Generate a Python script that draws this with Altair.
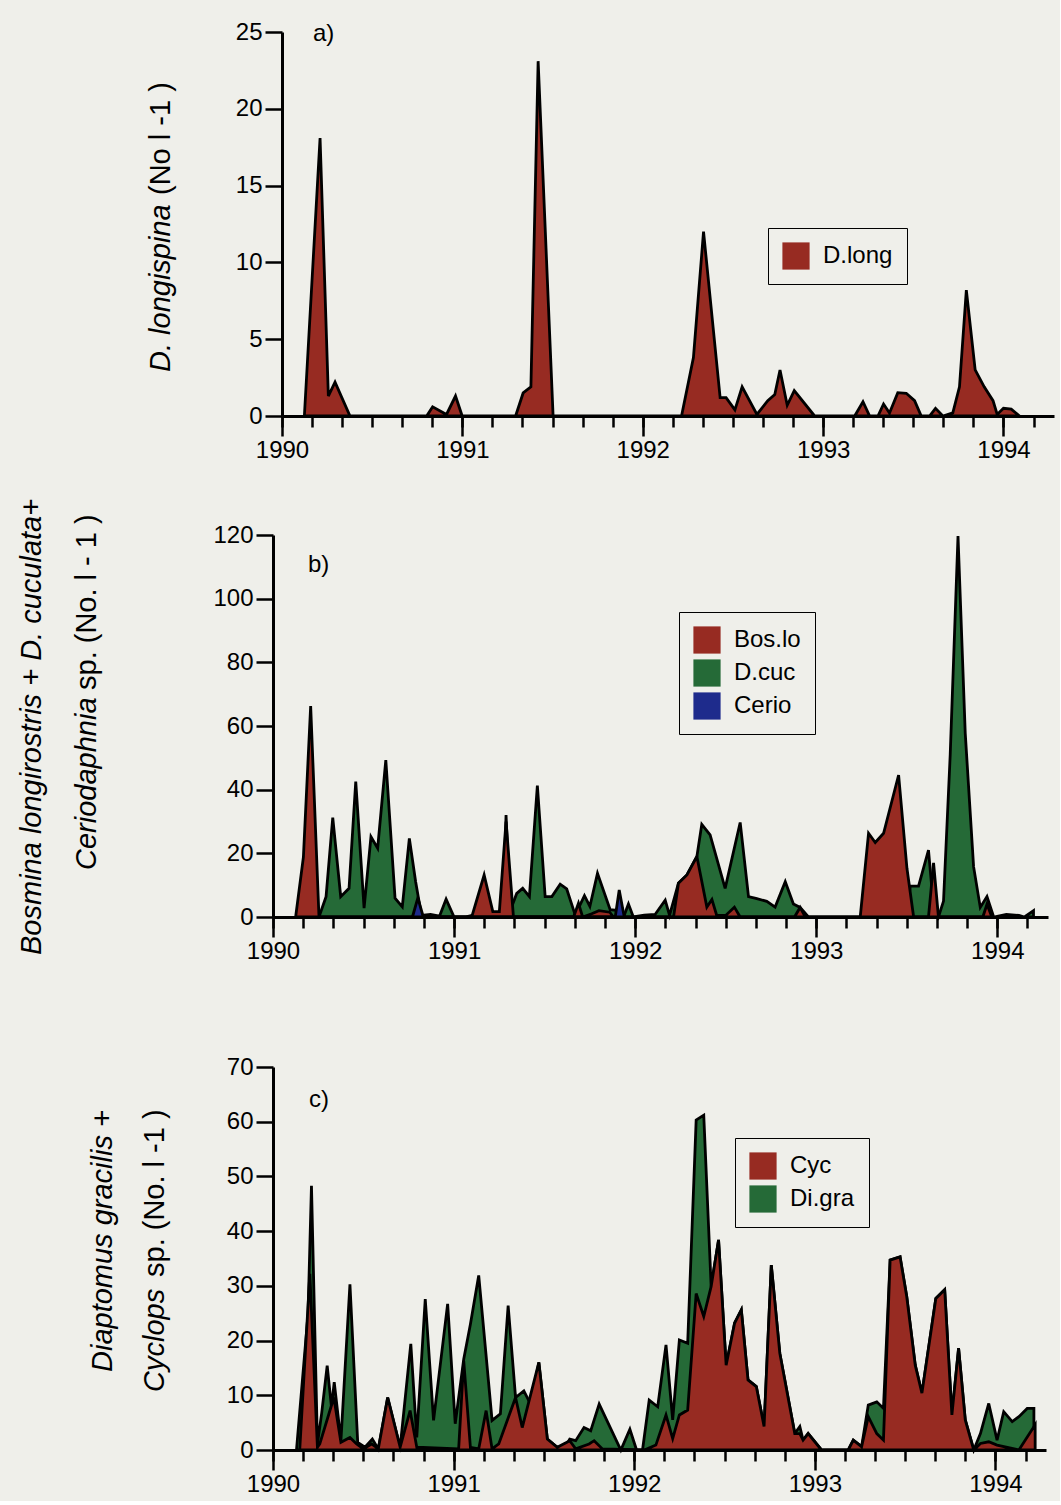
import altair as alt
import pandas as pd

FONT = "Liberation Sans, Arial, Helvetica, sans-serif"
BG = "#efefea"
RED = "#972b22"
GREEN = "#256a37"
BLUE = "#1e2b8c"

# ---------------- data ----------------
# a) D. longispina
A_YEAR = [1990.124, 1990.211, 1990.257, 1990.294, 1990.377, 1990.802, 1990.835, 1990.912,
          1990.962, 1990.999, 1991.295, 1991.337, 1991.380, 1991.420, 1991.503, 1992.215,
          1992.281, 1992.337, 1992.429, 1992.462, 1992.511, 1992.551, 1992.633, 1992.693,
          1992.732, 1992.761, 1992.801, 1992.840, 1992.953, 1993.175, 1993.221, 1993.258,
          1993.304, 1993.335, 1993.368, 1993.414, 1993.461, 1993.507, 1993.544, 1993.590,
          1993.623, 1993.664, 1993.719, 1993.756, 1993.794, 1993.843, 1993.893, 1993.942,
          1993.965, 1994.000, 1994.043, 1994.089]
A_DLONG = [0, 18.1, 1.3, 2.2, 0, 0, 0.6, 0.1,
           1.3, 0, 0, 1.5, 1.9, 23.1, 0, 0,
           3.8, 12.0, 1.2, 1.2, 0.4, 1.9, 0.1, 1.0,
           1.4, 3.0, 0.7, 1.65, 0, 0, 0.93, 0,
           0, 0.78, 0.2, 1.52, 1.48, 1.0, 0, 0,
           0.5, 0, 0.2, 1.9, 8.2, 3.0, 1.9, 1.0,
           0.1, 0.5, 0.45, 0]

# b) Bosmina longirostris, Daphnia cucullata, Ceriodaphnia
B_DCUC_YEAR = [1990.254, 1990.293, 1990.330, 1990.374, 1990.420, 1990.457, 1990.503, 1990.541,
               1990.578, 1990.623, 1990.674, 1990.714, 1990.753, 1990.788, 1990.820, 1990.870,
               1990.920, 1990.956, 1991.000, 1991.270, 1991.287, 1991.310, 1991.346, 1991.379,
               1991.416, 1991.460, 1991.503, 1991.540, 1991.586, 1991.622, 1991.669, 1991.720,
               1991.750, 1991.792, 1991.862, 1991.912, 1991.940, 1991.963, 1991.990, 1992.050,
               1992.110, 1992.166, 1992.190, 1992.239, 1992.286, 1992.341, 1992.368, 1992.414,
               1992.497, 1992.580, 1992.626, 1992.672, 1992.727, 1992.773, 1992.829, 1992.874,
               1992.911, 1992.957, 1993.500, 1993.519, 1993.565, 1993.620, 1993.648, 1993.675,
               1993.703, 1993.740, 1993.783, 1993.823, 1993.869, 1993.906, 1993.943, 1993.980,
               1994.050, 1994.120, 1994.150, 1994.200]
B_DCUC = [0, 6.4, 31.2, 6.4, 9.0, 42.5, 2.8, 25.2,
          21.6, 49.3, 5.9, 3.2, 24.7, 11.0, 0.5, 0.8,
          0.3, 5.6, 0, 0, 32.0, 2.0, 7.4, 9.0,
          6.4, 41.3, 6.4, 6.4, 10.3, 8.8, 0.6, 6.7,
          3.3, 13.7, 2.3, 2.0, 0.6, 4.1, 0, 0.6,
          0.8, 5.3, 0.5, 10.6, 13.2, 19.0, 29.1, 25.8,
          9.0, 29.7, 6.4, 5.8, 4.9, 3.1, 11.1, 4.1,
          3.0, 0, 0, 9.7, 9.7, 21.0, 3.0, 0,
          5.0, 51.0, 119.7, 57.7, 15.8, 3.0, 6.4, 0,
          0.8, 0.5, 0, 2.0]

B_BOS_YEAR = [1990.125, 1990.168, 1990.208, 1990.254, 1991.060, 1991.100, 1991.166, 1991.214,
              1991.250, 1991.287, 1991.328, 1991.660, 1991.687, 1991.710, 1991.760, 1991.800,
              1991.860, 1991.880, 1992.212, 1992.239, 1992.286, 1992.341, 1992.396, 1992.424,
              1992.450, 1992.500, 1992.548, 1992.580, 1992.880, 1992.911, 1992.940, 1993.243,
              1993.289, 1993.326, 1993.372, 1993.455, 1993.501, 1993.538, 1993.620, 1993.648,
              1993.675, 1993.920, 1993.943, 1993.970]
B_BOS = [0, 18.9, 66.3, 0, 0, 0.5, 13.2, 1.7,
         1.7, 30.0, 0, 0, 4.3, 0, 1.0, 2.0,
         1.5, 0, 0, 10.6, 13.2, 19.0, 3.1, 5.5,
         0.6, 0.5, 3.1, 0, 0, 3.0, 0, 0,
         26.3, 23.4, 26.3, 44.6, 15.3, 0, 0, 17.0,
         0, 0, 4.0, 0]

B_CERIO_YEAR = [1990.770, 1990.800, 1990.830, 1991.890, 1991.912, 1991.940]
B_CERIO = [0, 6.0, 0, 0, 8.5, 0]

# c) Cyclops sp., Diaptomus gracilis
C_DIGRA_YEAR = [1990.130, 1990.194, 1990.213, 1990.246, 1990.269, 1990.300, 1990.324, 1990.339,
                1990.376, 1990.426, 1990.469, 1990.509, 1990.550, 1990.583, 1990.635, 1990.704,
                1990.763, 1990.796, 1990.843, 1990.889, 1990.967, 1991.009, 1991.056, 1991.093,
                1991.139, 1991.213, 1991.259, 1991.302, 1991.343, 1991.389, 1991.426, 1991.472,
                1991.519, 1991.574, 1991.611, 1991.643, 1991.676, 1991.722, 1991.759, 1991.806,
                1991.926, 1991.976, 1992.013, 1992.046, 1992.083, 1992.130, 1992.176, 1992.213,
                1992.250, 1992.296, 1992.343, 1992.385, 1992.426, 1992.467, 1992.509, 1992.556,
                1992.593, 1992.630, 1992.676, 1992.719, 1992.759, 1992.806, 1992.889, 1992.917,
                1992.935, 1992.963, 1993.037, 1993.185, 1993.213, 1993.259, 1993.296, 1993.343,
                1993.380, 1993.417, 1993.472, 1993.509, 1993.556, 1993.593, 1993.670, 1993.719,
                1993.759, 1993.796, 1993.833, 1993.880, 1993.917, 1993.963, 1994.009, 1994.046,
                1994.093, 1994.130, 1994.176, 1994.213]
C_DIGRA = [0, 24.9, 48.3, 1.1, 6.6, 15.4, 7.8, 12.4,
           1.7, 30.3, 1.4, 0.5, 2.0, 0.2, 9.6, 0.5,
           19.4, 2.3, 27.6, 5.4, 26.7, 4.8, 16.6, 23.0,
           31.9, 5.4, 6.6, 26.4, 9.6, 10.8, 8.4, 16.0,
           2.0, 0.5, 0.2, 2.0, 1.7, 4.1, 3.5, 8.4,
           0, 3.8, 0, 0, 9.1, 7.9, 19.2, 5.5,
           20.1, 19.5, 60.3, 61.2, 29.9, 38.4, 15.5, 23.2,
           25.6, 12.8, 11.6, 4.3, 33.8, 17.7, 3.0, 4.3,
           1.8, 3.0, 0, 0, 1.8, 0.6, 8.2, 8.8,
           7.6, 34.7, 35.3, 28.0, 15.5, 10.4, 27.7, 29.3,
           6.4, 18.6, 5.5, 0, 3.0, 8.5, 1.8, 7.0,
           5.2, 6.1, 7.6, 7.6]

C_CYC_YEAR = [1990.148, 1990.204, 1990.246, 1990.259, 1990.337, 1990.376, 1990.426, 1990.463,
              1990.500, 1990.546, 1990.583, 1990.635, 1990.704, 1990.759, 1990.796, 1991.028,
              1991.056, 1991.093, 1991.139, 1991.180, 1991.213, 1991.250, 1991.343, 1991.380,
              1991.472, 1991.519, 1991.574, 1991.643, 1991.676, 1991.750, 1991.778, 1991.824,
              1992.056, 1992.120, 1992.176, 1992.213, 1992.250, 1992.296, 1992.343, 1992.385,
              1992.426, 1992.467, 1992.509, 1992.556, 1992.593, 1992.630, 1992.676, 1992.719,
              1992.759, 1992.806, 1992.889, 1992.917, 1992.935, 1992.963, 1993.037, 1993.185,
              1993.213, 1993.259, 1993.296, 1993.343, 1993.380, 1993.417, 1993.472, 1993.509,
              1993.556, 1993.593, 1993.670, 1993.719, 1993.759, 1993.796, 1993.833, 1993.880,
              1993.917, 1993.963, 1994.009, 1994.130, 1994.220]
C_CYC = [0, 32.2, 0.5, 1.1, 9.6, 1.4, 2.3, 1.1,
         0.2, 1.1, 0.2, 9.6, 0.5, 7.2, 0.5, 0.2,
         16.3, 0.5, 0.2, 7.2, 0.2, 1.1, 9.6, 4.1,
         16.0, 2.0, 0.5, 1.7, 0.2, 1.1, 1.7, 0.2,
         0, 0.9, 6.4, 2.1, 6.4, 7.3, 28.6, 24.4,
         29.9, 38.4, 15.5, 23.2, 25.6, 12.8, 11.6, 4.3,
         33.8, 17.7, 3.0, 3.0, 1.8, 3.0, 0, 0,
         1.8, 0.6, 6.1, 3.0, 1.8, 34.7, 35.3, 28.0,
         15.5, 10.4, 27.7, 29.3, 6.4, 18.6, 5.5, 0,
         1.2, 1.5, 0.9, 0, 4.6]

YEAR_TICKS = [1990, 1991, 1992, 1993, 1994]
MONTH_TICKS = [round(1990 + k / 6, 4) for k in range(26)]
A_Y_TICKS = [0, 5, 10, 15, 20, 25]
B_Y_TICKS = [0, 20, 40, 60, 80, 100, 120]
C_Y_TICKS = [0, 10, 20, 30, 40, 50, 60, 70]

X_DOMAIN = [1990, 1994.28]


def text_layer(txt, x, y, size, italic=False, angle=0, align="left"):
    kw = dict(font=FONT, fontSize=size, color="black", align=align, baseline="middle")
    if italic:
        kw["fontStyle"] = "italic"
    if angle:
        kw["angle"] = angle
    return alt.Chart(pd.DataFrame({"label": [txt]})).mark_text(**kw).encode(
        x=alt.value(x), y=alt.value(y), text="label:N")


def panel(series, legend_order, colors, ydom, yticks, xrange, yrange, w, h,
          yoffset, lx, ly, texts):
    cscale = alt.Scale(domain=legend_order, range=colors)
    legend = alt.Legend(orient="none", legendX=lx, legendY=ly, title=None,
                        symbolType="square", symbolSize=740, symbolStrokeWidth=0,
                        symbolOpacity=1, labelFont=FONT, labelFontSize=24,
                        labelColor="black", labelOffset=13, rowPadding=5, padding=14,
                        strokeColor="black")
    xscale = alt.Scale(domain=X_DOMAIN, range=xrange, nice=False, zero=False)
    yscale = alt.Scale(domain=ydom, range=yrange, nice=False, zero=True)
    yax = alt.Axis(values=yticks, title=None, grid=False, offset=yoffset, format="d",
                   tickSize=17, labelPadding=3)
    major = alt.Axis(values=YEAR_TICKS, format="d", tickSize=20, title=None, grid=False,
                     orient="bottom", labelFlush=False, labelPadding=2)
    minor = alt.Axis(values=MONTH_TICKS, labels=False, tickSize=11, domain=False,
                     title=None, grid=False, orient="bottom")
    layers = []
    for i, (name, xs, ys) in enumerate(series):
        df = pd.DataFrame({"year": xs, "n": ys, "taxon": name})
        layers.append(
            alt.Chart(df).mark_area(stroke="black", strokeWidth=2.8, fillOpacity=1,
                                    strokeJoin="miter").encode(
                x=alt.X("year:Q", scale=xscale, axis=major if i == 0 else None),
                y=alt.Y("n:Q", scale=yscale, axis=yax),
                color=alt.Color("taxon:N", scale=cscale, legend=legend),
            ))
    name0, xs0, ys0 = series[0]
    layers.append(
        alt.Chart(pd.DataFrame({"year": xs0, "n": ys0})).mark_line(strokeOpacity=0).encode(
            x=alt.X("year:Q", scale=xscale, axis=minor),
            y=alt.Y("n:Q", scale=yscale, axis=yax),
        ))
    for t in texts:
        layers.append(text_layer(*t))
    return alt.layer(*layers).resolve_axis(x="independent").properties(width=w, height=h)


W = 782
pa = panel([("D.long", A_YEAR, A_DLONG)], ["D.long"], [RED],
           [0, 25], A_Y_TICKS, [9, 781], [384, 0], W, 384, -9, 495, 196,
           [("D. longispina", -112, 340, 29, True, 270),
            ("(No l -1 )", -112, 163, 29, False, 270),
            ("a)", 40, 2, 24)])

pb = panel([("D.cuc", B_DCUC_YEAR, B_DCUC), ("Bos.lo", B_BOS_YEAR, B_BOS),
            ("Cerio", B_CERIO_YEAR, B_CERIO)],
           ["Bos.lo", "D.cuc", "Cerio"], [RED, GREEN, BLUE],
           [0, 120], B_Y_TICKS, [0, 775], [501, 119], W, 501, 0, 406, 196,
           [("Bosmina longirostris + D. cuculata+", -241, 539, 29, True, 270),
            ("Ceriodaphnia", -186, 454, 29, True, 270),
            ("sp. (No. l  - 1 )", -186, 274, 29, False, 270),
            ("b)", 35, 149, 24)])

pc = panel([("Di.gra", C_DIGRA_YEAR, C_DIGRA), ("Cyc", C_CYC_YEAR, C_CYC)],
           ["Cyc", "Di.gra"], [RED, GREEN],
           [0, 70], C_Y_TICKS, [0, 773], [533, 150], W, 533, 0, 462, 221,
           [("Diaptomus gracilis +", -170, 455, 29, True, 270),
            ("Cyclops", -118, 475, 29, True, 270),
            ("sp.  (No. l  -1 )", -118, 360, 29, False, 270),
            ("c)", 36, 183, 24)])

chart = alt.vconcat(pa, pb, pc, spacing=0, bounds="flush",
                    padding={"left": 18, "top": 20, "right": 5, "bottom": 5}).resolve_scale(
    color="independent", x="independent", y="independent").resolve_legend(
    color="independent").configure(background=BG).configure_view(stroke=None).configure_axis(
    domainColor="black", domainWidth=3, tickColor="black", tickWidth=2.5,
    labelFont=FONT, labelFontSize=24, labelColor="black")

chart.save("out.html", embed_options={"renderer": "svg", "actions": False})
